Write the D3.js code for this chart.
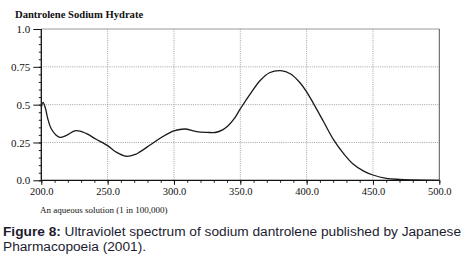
<!DOCTYPE html>
<html><head><meta charset="utf-8">
<script src="https://cdn.jsdelivr.net/npm/d3@7"></script>
<style>
html,body{margin:0;padding:0;background:#fff;}
svg{display:block;}
</style></head>
<body>
<svg id="chart" width="465" height="261"></svg>
<script>
// ---- data ----
const wavelength = [200, 201.3, 203, 204.8, 207.3, 211, 214, 218.6, 226, 233.7, 241, 250, 256, 264, 271, 274, 282, 289.5, 297, 300, 308, 317, 325, 331, 337, 341, 345, 350, 357, 365, 372, 380.5, 388, 395, 400, 405, 412.6, 420, 428, 435, 443, 450, 460, 470, 480, 500];
const absorbance = [0.48, 0.515, 0.48, 0.41, 0.344, 0.30, 0.284, 0.295, 0.328, 0.31, 0.273, 0.229, 0.189, 0.159, 0.172, 0.186, 0.233, 0.278, 0.315, 0.326, 0.339, 0.322, 0.317, 0.316, 0.335, 0.362, 0.402, 0.472, 0.565, 0.66, 0.711, 0.725, 0.703, 0.645, 0.585, 0.51, 0.39, 0.272, 0.175, 0.108, 0.061, 0.035, 0.013, 0.006, 0.003, 0.0];
const xTicks = [200, 250, 300, 350, 400, 450, 500];
const xTickLabels = ["200.0", "250.0", "300.0", "350.0", "400.0", "450.0", "500.0"];
const yTicks = [0, 0.25, 0.5, 0.75, 1.0];
const yTickLabels = ["0.0", "0.25", "0.5", "0.75", "1.0"];
const titleText = "Dantrolene Sodium Hydrate";
const subtitleText = "An aqueous solution (1 in 100,000)";
const captionBold = "Figure 8:";
const captionLine1 = " Ultraviolet spectrum of sodium dantrolene published by Japanese";
const captionLine2 = "Pharmacopoeia (2001).";

// ---- layout ----
const svg = d3.select("#chart");
const L = 41.3, R = 439.3, T = 29, B = 180.3;
const x = d3.scaleLinear().domain([200, 500]).range([L, R]);
const y = d3.scaleLinear().domain([0, 1]).range([B, T]);
const serif = "'Liberation Serif','Times New Roman',serif";

// grid
const grid = svg.append("g");
grid.selectAll("line.vx").data(xTicks.slice(1, -1)).join("line")
  .attr("x1", d => x(d)).attr("x2", d => x(d)).attr("y1", T).attr("y2", B)
  .attr("stroke", "#8a8a8a").attr("stroke-width", 0.8).attr("stroke-dasharray", "1,1.2");
grid.selectAll("line.hy").data(yTicks.slice(1, -1)).join("line")
  .attr("x1", L).attr("x2", R).attr("y1", d => y(d)).attr("y2", d => y(d))
  .attr("stroke", "#8a8a8a").attr("stroke-width", 0.8).attr("stroke-dasharray", "1,1.2");
// frame top & right
svg.append("line").attr("x1", L).attr("x2", R).attr("y1", T).attr("y2", T)
  .attr("stroke", "#9a9a9a").attr("stroke-width", 1);
svg.append("line").attr("x1", R).attr("x2", R).attr("y1", T).attr("y2", B)
  .attr("stroke", "#555").attr("stroke-width", 1);

// axes
const xMinor = d3.range(200, 501, 10);
const yMinor = d3.range(0, 1.0001, 0.05);
svg.append("g").attr("transform", `translate(0,${B})`)
  .call(d3.axisBottom(x).tickValues(xMinor).tickSize(2.5).tickFormat(""))
  .call(g => g.select(".domain").remove())
  .selectAll("line").attr("stroke", "#222");
const xAxis = svg.append("g").attr("transform", `translate(0,${B})`)
  .call(d3.axisBottom(x).tickValues(xTicks).tickSize(4.5).tickPadding(3)
    .tickFormat((d, i) => xTickLabels[i]));
xAxis.select(".domain").attr("stroke", "#111").attr("stroke-width", 1.3).attr("d", `M${L},0H${R}`);
xAxis.selectAll("line").attr("stroke", "#111");
xAxis.selectAll("text").attr("font-family", serif).attr("font-size", 10.5).attr("fill", "#111");

svg.append("g").attr("transform", `translate(${L},0)`)
  .call(d3.axisLeft(y).tickValues(yMinor).tickSize(2.5).tickFormat(""))
  .call(g => g.select(".domain").remove())
  .selectAll("line").attr("stroke", "#222");
const yAxis = svg.append("g").attr("transform", `translate(${L},0)`)
  .call(d3.axisLeft(y).tickValues(yTicks).tickSize(8).tickPadding(3)
    .tickFormat((d, i) => yTickLabels[i]));
yAxis.select(".domain").attr("stroke", "#111").attr("stroke-width", 1.3).attr("d", `M0,${T}V${B}`);
yAxis.selectAll("line").attr("stroke", "#111");
yAxis.selectAll("text").attr("font-family", serif).attr("font-size", 11).attr("fill", "#111");

// curve
const pts = wavelength.map((w, i) => [w, absorbance[i]]);
svg.append("path").datum(pts)
  .attr("fill", "none").attr("stroke", "#1a1a1a").attr("stroke-width", 1.3)
  .attr("d", d3.line().x(d => x(d[0])).y(d => y(d[1])).curve(d3.curveCatmullRom.alpha(0.5)));

// titles
svg.append("text").attr("x", 15).attr("y", 18).attr("font-family", serif)
  .attr("font-weight", "bold").attr("font-size", 10.6).attr("fill", "#111").text(titleText);
svg.append("text").attr("x", 40).attr("y", 212.5).attr("font-family", serif)
  .attr("font-size", 9).attr("fill", "#111").text(subtitleText);

// caption
const cap = svg.append("text").attr("font-family", "'Liberation Sans',Arial,sans-serif")
  .attr("font-size", 13.7).attr("fill", "#1c1c30");
const l1 = cap.append("tspan").attr("x", 3).attr("y", 236);
l1.append("tspan").attr("font-weight", "bold").text(captionBold);
l1.append("tspan").text(captionLine1);
cap.append("tspan").attr("x", 3).attr("y", 250.5).text(captionLine2);
</script>
</body></html>
